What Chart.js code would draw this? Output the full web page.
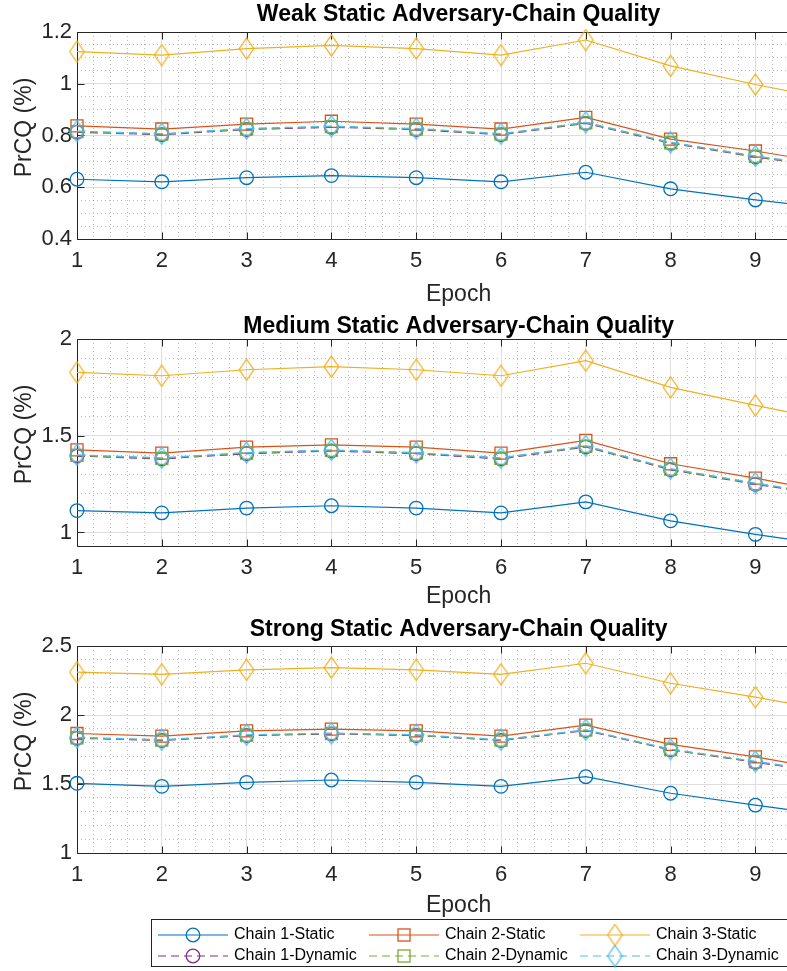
<!DOCTYPE html>
<html>
<head>
<meta charset="utf-8">
<script src="https://cdn.jsdelivr.net/npm/chart.js@4.4.1/dist/chart.umd.min.js"></script>
<style>
  html, body { margin: 0; padding: 0; background: #fff; width: 787px; height: 971px; overflow: hidden; }
  .panel { position: absolute; left: 0; }
</style>
</head>
<body>
<canvas id="weak" class="panel" style="top:0" width="850" height="310"></canvas>
<canvas id="medium" class="panel" style="top:310px" width="850" height="300"></canvas>
<canvas id="strong" class="panel" style="top:610px" width="850" height="361"></canvas>
<script>
"use strict";

// ---- data ----
const epochs = [1, 2, 3, 4, 5, 6, 7, 8, 9, 10];
const xTicks = [1, 2, 3, 4, 5, 6, 7, 8, 9, 10];
const seriesNames = [
  "Chain 1-Static", "Chain 2-Static", "Chain 3-Static",
  "Chain 1-Dynamic", "Chain 2-Dynamic", "Chain 3-Dynamic",
];

const weakYTicks = [0.4, 0.6, 0.8, 1, 1.2];
const weakC1S = [0.631, 0.621, 0.637, 0.645, 0.637, 0.621, 0.658, 0.594, 0.551, 0.514];
const weakC2S = [0.837, 0.825, 0.844, 0.855, 0.844, 0.825, 0.870, 0.786, 0.740, 0.686];
const weakC3S = [1.124, 1.111, 1.136, 1.148, 1.136, 1.111, 1.169, 1.069, 0.997, 0.933];
const weakC1D = [0.813, 0.803, 0.823, 0.832, 0.823, 0.803, 0.847, 0.770, 0.717, 0.671];
const weakC2D = [0.815, 0.805, 0.825, 0.834, 0.825, 0.805, 0.849, 0.772, 0.719, 0.673];
const weakC3D = [0.817, 0.807, 0.827, 0.836, 0.827, 0.807, 0.851, 0.774, 0.721, 0.675];

const medYTicks = [1, 1.5, 2];
const medC1S = [1.113, 1.101, 1.126, 1.138, 1.126, 1.101, 1.158, 1.060, 0.990, 0.927];
const medC2S = [1.427, 1.410, 1.441, 1.453, 1.441, 1.410, 1.476, 1.355, 1.281, 1.198];
const medC3S = [1.827, 1.810, 1.841, 1.857, 1.841, 1.810, 1.888, 1.750, 1.657, 1.568];
const medC1D = [1.395, 1.380, 1.407, 1.421, 1.407, 1.380, 1.442, 1.324, 1.249, 1.183];
const medC2D = [1.398, 1.383, 1.410, 1.424, 1.410, 1.383, 1.445, 1.327, 1.252, 1.186];
const medC3D = [1.401, 1.386, 1.413, 1.427, 1.413, 1.386, 1.448, 1.330, 1.255, 1.189];

const strYTicks = [1, 1.5, 2, 2.5];
const strC1S = [1.505, 1.483, 1.512, 1.529, 1.512, 1.483, 1.553, 1.433, 1.347, 1.264];
const strC2S = [1.866, 1.847, 1.885, 1.897, 1.885, 1.847, 1.926, 1.787, 1.697, 1.588];
const strC3S = [2.310, 2.295, 2.327, 2.343, 2.327, 2.295, 2.375, 2.230, 2.129, 2.018];
const strC1D = [1.832, 1.815, 1.851, 1.863, 1.851, 1.815, 1.887, 1.747, 1.658, 1.569];
const strC2D = [1.835, 1.818, 1.854, 1.866, 1.854, 1.818, 1.890, 1.750, 1.661, 1.572];
const strC3D = [1.838, 1.821, 1.857, 1.869, 1.857, 1.821, 1.893, 1.753, 1.664, 1.575];

// ---- styling ----
const FONT = '"Liberation Sans", Arial, Helvetica, sans-serif';
const AXIS_COLOR = "#262626";
const COLORS = ["#0072BD", "#D95319", "#EDB120", "#7E2F8E", "#77AC30", "#4DBEEE"];
const TICK_LEN = 7;

function diamondImage(color) {
  const c = document.createElement("canvas");
  c.width = 17;
  c.height = 23;
  const g = c.getContext("2d");
  g.strokeStyle = color;
  g.lineWidth = 1.3;
  g.beginPath();
  g.moveTo(8.5, 1);
  g.lineTo(15.8, 11.5);
  g.lineTo(8.5, 22);
  g.lineTo(1.2, 11.5);
  g.closePath();
  g.stroke();
  return c;
}

const MARKERS = [
  { style: "circle", r: 6.8 },
  { style: "rect", r: 8.5 },
  { style: "diamond", r: 8 },
];

function makeDataset(i, values) {
  const color = COLORS[i];
  const m = MARKERS[i % 3];
  const dashed = i >= 3;
  return {
    label: seriesNames[i],
    data: epochs.map((x, k) => ({ x, y: values[k] })),
    borderColor: color,
    backgroundColor: color,
    borderWidth: 1.2,
    borderDash: dashed ? [8, 5] : [],
    pointStyle: m.style === "diamond" ? diamondImage(color) : m.style,
    pointRadius: m.r,
    pointHoverRadius: m.r,
    pointBorderWidth: 1.3,
    pointBorderColor: color,
    pointBackgroundColor: "rgba(0,0,0,0)",
    tension: 0,
    fill: false,
    clip: false,
    order: 5 - i, // later series drawn on top, like MATLAB
  };
}

// MATLAB-like box with inward tick marks
const axesFrame = {
  id: "axesFrame",
  beforeDatasetsDraw(chart) {
    const { ctx, chartArea: a, scales } = chart;
    const L = Math.round(a.left) + 0.5, R = Math.round(a.right) + 0.5;
    const T = Math.round(a.top) + 0.5, B = Math.round(a.bottom) + 0.5;
    ctx.save();
    ctx.strokeStyle = AXIS_COLOR;
    ctx.lineWidth = 1;
    ctx.beginPath();
    ctx.rect(L, T, R - L, B - T);
    scales.x.ticks.forEach((t) => {
      const px = Math.round(scales.x.getPixelForValue(t.value)) + 0.5;
      ctx.moveTo(px, B); ctx.lineTo(px, B - TICK_LEN);
      ctx.moveTo(px, T); ctx.lineTo(px, T + TICK_LEN);
    });
    scales.y.ticks.forEach((t) => {
      const py = Math.round(scales.y.getPixelForValue(t.value)) + 0.5;
      ctx.moveTo(L, py); ctx.lineTo(L + TICK_LEN, py);
      ctx.moveTo(R, py); ctx.lineTo(R - TICK_LEN, py);
    });
    ctx.stroke();
    ctx.restore();
  },
};

// legend box under the last panel (legend 'southoutside', 3 columns)
const LEG = { left: 151.5, top: 309.5, width: 760, height: 47, cols: [158, 369, 580], rows: [325, 346], lineLen: 70 };
const bottomLegend = {
  id: "bottomLegend",
  afterDraw(chart) {
    const ctx = chart.ctx;
    ctx.save();
    ctx.fillStyle = "#fff";
    ctx.fillRect(LEG.left, LEG.top, LEG.width, LEG.height);
    ctx.strokeStyle = AXIS_COLOR;
    ctx.lineWidth = 1;
    ctx.strokeRect(LEG.left, LEG.top, LEG.width, LEG.height);
    chart.data.datasets.forEach((ds, i) => {
      const x0 = LEG.cols[i % 3];
      const y = LEG.rows[Math.floor(i / 3)];
      const cx = x0 + LEG.lineLen / 2;
      ctx.strokeStyle = ds.borderColor;
      ctx.lineWidth = ds.borderWidth;
      ctx.setLineDash(ds.borderDash);
      ctx.beginPath();
      ctx.moveTo(x0, y);
      ctx.lineTo(x0 + LEG.lineLen, y);
      ctx.stroke();
      ctx.setLineDash([]);
      ctx.lineWidth = ds.pointBorderWidth;
      const ps = ds.pointStyle;
      if (typeof ps === "object") {
        ctx.drawImage(ps, cx - ps.width / 2, y - ps.height / 2);
      } else if (ps === "circle") {
        ctx.beginPath();
        ctx.arc(cx, y, ds.pointRadius, 0, Math.PI * 2);
        ctx.stroke();
      } else {
        const s = ds.pointRadius / Math.SQRT2;
        ctx.strokeRect(cx - s, y - s, 2 * s, 2 * s);
      }
      ctx.fillStyle = "#000";
      ctx.font = "16px " + FONT;
      ctx.textBaseline = "middle";
      ctx.textAlign = "left";
      ctx.fillText(ds.label, x0 + LEG.lineLen + 6, y);
    });
    ctx.restore();
  },
};

const fmtTick = (v) => String(Math.round(v * 100) / 100);
const noPad = (s) => { s.paddingLeft = 0; s.paddingRight = 0; s.paddingTop = 0; s.paddingBottom = 0; };

function makePanel(id, cfg) {
  const sets = cfg.values.map((vals, i) => makeDataset(i, vals));
  const plugins = [axesFrame];
  if (cfg.legend) plugins.push(bottomLegend);
  return new Chart(document.getElementById(id), {
    type: "line",
    data: { datasets: sets },
    plugins,
    options: {
      responsive: false,
      animation: false,
      devicePixelRatio: 1,
      layout: { padding: { left: 0, right: 4, top: 0, bottom: cfg.padBottom || 0 } },
      plugins: {
        legend: { display: false },
        tooltip: { enabled: false },
        title: {
          display: true,
          text: cfg.title,
          fullSize: false,
          color: "#000",
          font: { family: FONT, size: 23, weight: "bold", lineHeight: 1 },
          padding: cfg.titlePad,
        },
      },
      scales: {
        xm: {
          type: "linear", position: "bottom", min: 1, max: 10, z: -1,
          ticks: { display: false, stepSize: 0.2 },
          grid: { drawTicks: false, color: "rgba(38,38,38,0.3)", lineWidth: 1 },
          border: { display: false, dash: [1, 3] },
          afterFit: (s) => { s.height = 0; noPad(s); },
        },
        ym: {
          type: "linear", position: "left", min: cfg.yMin, max: cfg.yMax, z: -1,
          ticks: { display: false, stepSize: cfg.yMinor, includeBounds: false },
          grid: { drawTicks: false, color: "rgba(38,38,38,0.3)", lineWidth: 1 },
          border: { display: false, dash: [1, 3] },
          afterFit: (s) => { s.width = 0; noPad(s); },
        },
        x: {
          type: "linear", position: "bottom", min: 1, max: 10,
          afterBuildTicks: (s) => { s.ticks = xTicks.map((v) => ({ value: v })); },
          ticks: {
            autoSkip: false, maxRotation: 0, padding: 11, color: AXIS_COLOR,
            font: { family: FONT, size: 22, lineHeight: 1 },
            callback: fmtTick,
          },
          grid: { drawTicks: false, color: "#dedede", lineWidth: 1 },
          border: { display: false },
          title: {
            display: true, text: "Epoch", color: AXIS_COLOR,
            font: { family: FONT, size: 23, lineHeight: 1 },
            padding: { top: 0, bottom: cfg.epochPad },
          },
          afterFit: (s) => { s.height = cfg.xHeight; noPad(s); },
        },
        y: {
          type: "linear", position: "left", min: cfg.yMin, max: cfg.yMax,
          afterBuildTicks: (s) => { s.ticks = cfg.yTicks.map((v) => ({ value: v })); },
          ticks: {
            padding: 5, color: AXIS_COLOR,
            font: { family: FONT, size: 22, lineHeight: 1 },
            callback: fmtTick,
          },
          grid: { drawTicks: false, color: "#dedede", lineWidth: 1 },
          border: { display: false },
          title: {
            display: true, text: "\u2002\u2009PrCQ (%)", color: AXIS_COLOR,
            font: { family: FONT, size: 23, lineHeight: 1 },
            padding: { top: 13, bottom: 0 },
          },
          afterFit: (s) => { s.width = 77; noPad(s); },
        },
      },
    },
  });
}

makePanel("weak", {
  title: "Weak Static Adversary-Chain Quality",
  values: [weakC1S, weakC2S, weakC3S, weakC1D, weakC2D, weakC3D],
  yMin: 0.4, yMax: 1.2, yMinor: 0.05, yTicks: weakYTicks,
  titlePad: { top: 3.2, bottom: 5.8 }, xHeight: 71, epochPad: 3.5,
});

makePanel("medium", {
  title: "Medium Static Adversary-Chain Quality",
  values: [medC1S, medC2S, medC3S, medC1D, medC2D, medC3D],
  yMin: 0.93, yMax: 2, yMinor: 0.1, yTicks: medYTicks,
  titlePad: { top: 5.5, bottom: 0.5 }, xHeight: 64, epochPad: 2,
});

makePanel("strong", {
  title: "Strong Static Adversary-Chain Quality",
  values: [strC1S, strC2S, strC3S, strC1D, strC2D, strC3D],
  yMin: 1, yMax: 2.5, yMinor: 0.1, yTicks: strYTicks,
  titlePad: { top: 8, bottom: 5 }, xHeight: 70, epochPad: 6, padBottom: 48,
  legend: true,
});
</script>
</body>
</html>
